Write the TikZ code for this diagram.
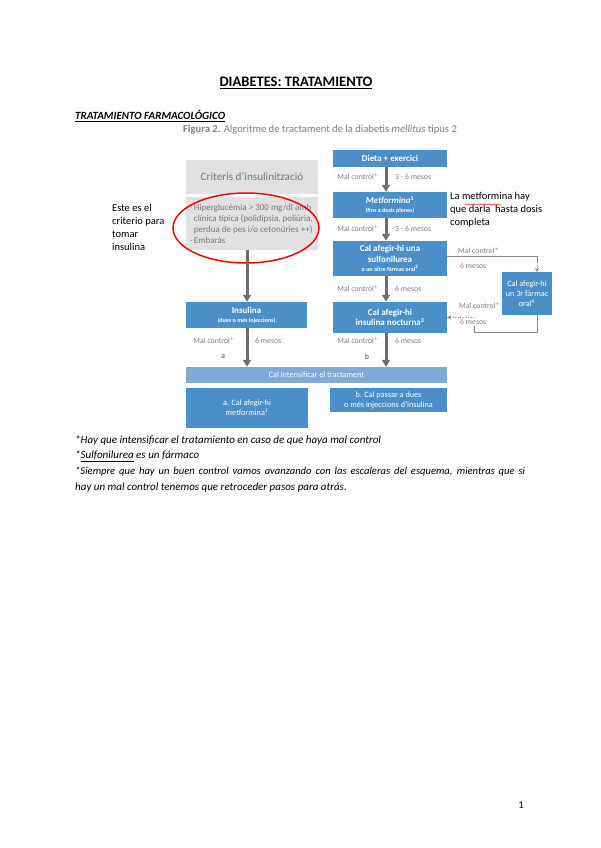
\documentclass[tikz,border=0pt]{standalone}
\usepackage{fontspec}
\setmainfont{Carlito}
\usetikzlibrary{positioning,arrows.meta,decorations.pathmorphing}

% Colours
\definecolor{boxBlue}{HTML}{4A8FC9}
\definecolor{barBlue}{HTML}{7DAAD6}
\definecolor{critGray}{HTML}{E1E1E1}
\definecolor{critText}{HTML}{7A7A7A}
\definecolor{labelGray}{HTML}{7F7F7F}
\definecolor{arrowGray}{HTML}{6E6E6E}
\definecolor{lineGray}{HTML}{8C8C8C}

% Small second line inside a box
\newcommand{\boxnote}[1]{{\fontsize{6}{7}\selectfont\bfseries #1}}

\tikzset{
  stepbox/.style={fill=boxBlue, text=white, align=center, inner sep=0pt,
    font=\fontsize{9}{10.5}\selectfont\bfseries},
  optbox/.style={stepbox, font=\fontsize{8.2}{10}\selectfont},
  critbox/.style={fill=critGray, text=critText, inner sep=0pt},
  steplabel/.style={text=labelGray, inner sep=0pt, font=\fontsize{7.8}{9}\selectfont},
  mainarrow/.style={draw=arrowGray, line width=3pt, -{Triangle[length=7pt,width=8pt]}},
  sideline/.style={draw=lineGray, line width=0.6pt},
  sidearrow/.style={draw=lineGray, line width=0.6pt, dotted, -{Stealth[length=4pt,width=4pt]}},
  note/.style={inner sep=0pt, align=left, font=\fontsize{10.5}{13}\selectfont},
  footnote/.style={inner sep=0pt, anchor=west, font=\fontsize{11}{13}\selectfont\itshape}
}

\begin{document}
\begin{tikzpicture}[x=1pt,y=-1pt]
    % Page
    \useasboundingbox[fill=white] (0,0) rectangle (600,848);

    % Headings
    \node[inner sep=0pt, font=\fontsize{14.5}{16}\selectfont\bfseries] (title) at (296,83)
        {\underline{DIABETES: TRATAMIENTO}};
    \node[inner sep=0pt, anchor=west, font=\fontsize{11}{13}\selectfont\bfseries\itshape] (subtitle) at (75,116)
        {\underline{TRATAMIENTO FARMACOLÓGICO}};
    \node[inner sep=0pt, text=labelGray, font=\fontsize{10.6}{12}\selectfont] (caption) at (320,130)
        {\textbf{Figura 2.} Algoritme de tractament de la diabetis \textit{mellitus} tipus 2};

    % Criteria column
    \node[critbox, minimum width=132pt, minimum height=34pt, font=\fontsize{11.2}{13}\selectfont] (critTitle) at (252,177)
        {Criteris d'insulinització};
    \node[critbox, minimum width=132pt, minimum height=53pt] (critBody) at (252,223.5) {};
    \node[inner sep=0pt, anchor=north west, text=critText, align=left, font=\fontsize{9}{11}\selectfont] (critText) at (190,204.5)
        {·\,Hiperglucèmia > 300 mg/dl amb\\
         \hphantom{·\,}clínica típica (polidípsia, poliúria,\\
         \hphantom{·\,}perdua de pes i/o cetonúries ++)\\
         ·\,Embaràs};
    \draw[red, line width=1.5pt] (246,228) ellipse [x radius=73, y radius=35];

    % Main steps
    \node[stepbox, minimum width=114pt, minimum height=17pt] (dieta) at (390,158.5) {Dieta + exercici};
    \node[stepbox, minimum width=114pt, minimum height=26pt] (metf) at (390,205)
        {\textit{Metformina}\textsuperscript{1}\\[-1.5pt] \boxnote{(fins a dosis plenes)}};
    \node[stepbox, minimum width=114pt, minimum height=35pt] (sulf) at (390,258.5)
        {Cal afegir-hi una\\ sulfonilurea\\[-1.5pt] \boxnote{o un altre fàrmac oral\textsuperscript{2}}};
    \node[stepbox, minimum width=114pt, minimum height=31pt] (noct) at (390,317.5)
        {Cal afegir-hi\\ insulina nocturna\textsuperscript{3}};
    \node[stepbox, minimum width=121pt, minimum height=26pt] (insul) at (246.5,315)
        {Insulina\\[-1.5pt] \boxnote{(dues o més injeccions)}};
    \node[optbox, minimum width=50pt, minimum height=43pt] (third) at (527,293.5)
        {Cal afegir-hi\\ un 3r fàrmac\\ oral\textsuperscript{4}};
    \node[optbox, fill=barBlue, minimum width=261pt, minimum height=16pt] (bar) at (316.5,375)
        {Cal intensificar el tractament};
    \node[optbox, minimum width=122pt, minimum height=40pt] (optA) at (247,408)
        {a. Cal afegir-hi\\ metformina\textsuperscript{1}};
    \node[optbox, minimum width=117pt, minimum height=24pt] (optB) at (388.5,400)
        {b. Cal passar a dues\\ o més injeccions d'insulina};

    % Column lines
    \coordinate (colL) at (247,0);
    \coordinate (colR) at (386,0);

    % Main arrows
    \draw[mainarrow] (critBody.south -| colL) -- (insul.north -| colL);
    \draw[mainarrow] (insul.south -| colL) -- (bar.north -| colL);
    \draw[mainarrow] (dieta.south -| colR) -- (metf.north -| colR);
    \draw[mainarrow] (metf.south -| colR) -- (sulf.north -| colR);
    \draw[mainarrow] (sulf.south -| colR) -- (noct.north -| colR);
    \draw[mainarrow] (noct.south -| colR) -- (bar.north -| colR);

    % Arrow labels
    \node[steplabel, anchor=east] (mc1) at (378,177) {Mal control*};
    \node[steplabel, anchor=west] (ms1) at (395,177) {3 - 6 mesos};
    \node[steplabel, anchor=east] (mc2) at (378,229) {Mal control*};
    \node[steplabel, anchor=west] (ms2) at (395,229) {3 - 6 mesos};
    \node[steplabel, anchor=east] (mc3) at (378,289) {Mal control*};
    \node[steplabel, anchor=west] (ms3) at (395,289) {6 mesos};
    \node[steplabel, anchor=east] (mc4) at (378,341) {Mal control*};
    \node[steplabel, anchor=west] (ms4) at (395,341) {6 mesos};
    \node[steplabel, anchor=east] (mc5) at (234,341) {Mal control*};
    \node[steplabel, anchor=west] (ms5) at (255,341) {6 mesos};
    \node[steplabel, text=boxBlue, font=\fontsize{8}{9}\selectfont\bfseries] (labA) at (223,357) {a};
    \node[steplabel, text=boxBlue, font=\fontsize{8}{9}\selectfont\bfseries] (labB) at (367,357) {b};

    % Side loop to the third oral drug
    \coordinate (sideX) at (537,0);
    \coordinate (topTurn) at (537,256);
    \coordinate (topDrop) at (537,262);
    \coordinate (lowTurn) at (474,332);
    \coordinate (lowRise) at (474,326);
    \coordinate (lowDot) at (474,317.5);
    \draw[sideline] ([yshift=2.5pt]sulf.east) -- (topTurn) -- (topDrop);
    \draw[sidearrow] (topDrop) -- (third.north -| sideX);
    \draw[sideline] (third.south -| sideX) |- (lowTurn) -- (lowRise);
    \draw[sidearrow] (lowDot) -- (noct.east);
    \node[steplabel, anchor=west] (mc6) at (458,251) {Mal control*};
    \node[steplabel, anchor=west] (ms6) at (460,266) {6 mesos};
    \node[steplabel, anchor=west] (mc7) at (459,306) {Mal control*};
    \node[steplabel, anchor=west] (ms7) at (460,322) {6 mesos};

    % Handwritten notes
    \node[note, anchor=north west] (noteCrit) at (112,204)
        {Este es el\\ criterio para\\ tomar\\ insulina};
    \node[note, anchor=north west] (noteMetf) at (450,192)
        {La metformina hay\\ que darla\ \ hasta dosis\\ completa};
    \draw[red, line width=0.4pt, decorate, decoration={snake, amplitude=0.6pt, segment length=2.5pt}]
        (465,204.5) -- (501,204.5);

    % Footnotes
    \node[footnote] (foot1) at (75,440)
        {*Hay que intensificar el tratamiento en caso de que haya mal control};
    \node[footnote] (foot2) at (75,456)
        {*\underline{Sulfonilurea} es un fármaco};
    \node[footnote, font=\fontsize{10.6}{13}\selectfont\itshape] (foot3) at (75,472)
        {\makebox[450pt][s]{*Siempre que hay un buen control vamos avanzando con las escaleras del esquema, mientras que si}};
    \node[footnote] (foot4) at (75,488)
        {hay un mal control tenemos que retroceder pasos para atrás.};

    % Page number
    \node[inner sep=0pt, font=\fontsize{10.5}{13}\selectfont] (pageNum) at (521,805) {1};
\end{tikzpicture}
\end{document}
